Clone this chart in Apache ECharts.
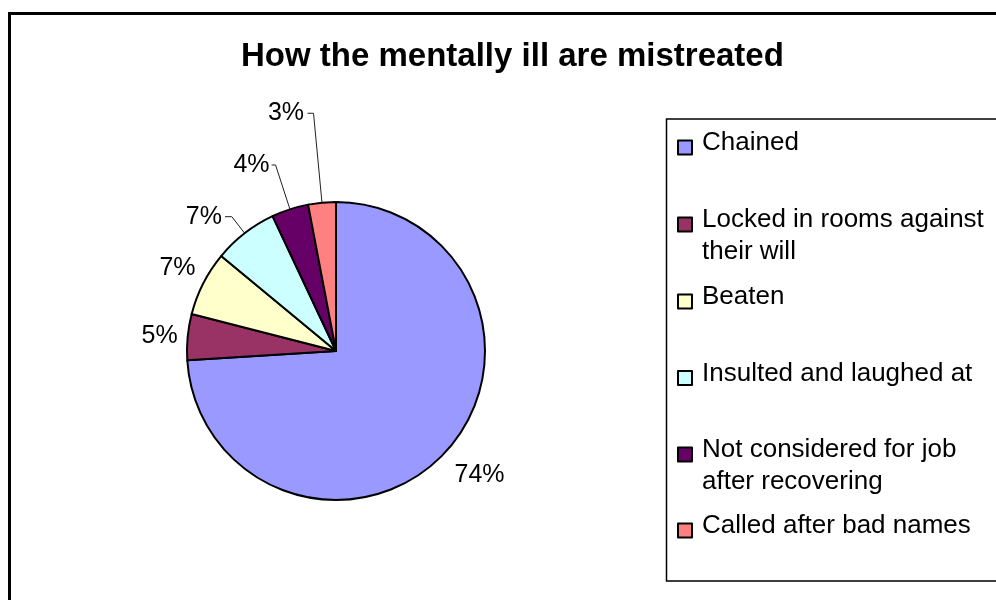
<!DOCTYPE html>
<html>
<head>
<meta charset="utf-8">
<script src="https://cdn.jsdelivr.net/npm/echarts@6/dist/echarts.min.js"></script>
<style>
  html, body { margin: 0; padding: 0; background: #ffffff; }
  #chart { width: 996px; height: 600px; }
</style>
</head>
<body>
<div id="chart"></div>
<script>
// Survey categories and their percentage shares
const categories = [
  'Chained',
  'Locked in rooms against\ntheir will',
  'Beaten',
  'Insulted and laughed at',
  'Not considered for job\nafter recovering',
  'Called after bad names'
];
const shares = [74, 5, 7, 7, 4, 3];
const sliceColors = ['#9999FF', '#993366', '#FFFFCC', '#CCFFFF', '#660066', '#FF8080'];

// Outside-label leaders: radial length, horizontal length, gap to text, visibility
const labelLeaders = [
  { show: false, length: 32.3, length2: -18.6, gap: 5 },
  { show: false, length: 5,    length2: 0,     gap: 5 },
  { show: false, length: 32.8, length2: -26.5, gap: 5 },
  { show: true,  length: 21,   length2: 6.8,   gap: 3 },
  { show: true,  length: 46.6, length2: 4,     gap: 2 },
  { show: true,  length: 89.8, length2: 6,     gap: 3.5 }
];

// Vertical centre of the first text line of each legend entry
const legendRows = [143, 220, 297, 373.5, 450, 526];

const fontFamily = '"Liberation Sans", Arial, Helvetica, sans-serif';

const pieData = categories.map((name, i) => ({
  name: name,
  value: shares[i],
  itemStyle: { color: sliceColors[i] },
  label: { distanceToLabelLine: labelLeaders[i].gap },
  labelLine: {
    show: labelLeaders[i].show,
    length: labelLeaders[i].length,
    length2: labelLeaders[i].length2
  }
}));

// Legend text: the swatch sits a little below the first text line,
// so a spacer line is added above (wrapped entries) or below (single-line entries).
function legendText(name) {
  const parts = name.split('\n');
  if (parts.length > 1) {
    return '{gt| }\n' + parts.map(p => '{t|' + p + '}').join('\n');
  }
  return '{t|' + name + '}\n{gb| }';
}

const legends = categories.map((name, i) => {
  const lines = name.split('\n').length;
  return {
    orient: 'vertical',
    left: 677,
    top: lines > 1 ? legendRows[i] - 40.5 : legendRows[i] - 13,
    padding: 0,
    itemGap: 0,
    icon: 'rect',
    itemWidth: 14,
    itemHeight: 14,
    itemStyle: { borderColor: '#000000', borderWidth: 2 },
    formatter: legendText,
    textStyle: {
      fontFamily: fontFamily,
      fontSize: 26,
      color: '#000000',
      padding: [0, 0, 0, 5],
      rich: {
        t: { fontFamily: fontFamily, fontSize: 26, lineHeight: 32, color: '#000000' },
        gt: { fontFamily: fontFamily, fontSize: 26, lineHeight: 23 },
        gb: { fontFamily: fontFamily, fontSize: 26, lineHeight: 9 }
      }
    },
    data: [name]
  };
});

const chart = echarts.init(document.getElementById('chart'), null, { renderer: 'canvas' });

chart.setOption({
  backgroundColor: '#ffffff',
  animation: false,
  title: {
    text: 'How the mentally ill are mistreated',
    left: 241,
    top: 40,
    padding: 0,
    textStyle: { fontFamily: fontFamily, fontSize: 33, fontWeight: 'bold', color: '#000000' }
  },
  graphic: [
    {
      type: 'rect',
      silent: true,
      z: -10,
      shape: { x: 9.5, y: 13.5, width: 1100, height: 700 },
      style: { fill: 'none', stroke: '#000000', lineWidth: 3 }
    },
    {
      type: 'rect',
      silent: true,
      z: -5,
      shape: { x: 666.5, y: 119, width: 400, height: 462 },
      style: { fill: 'none', stroke: '#000000', lineWidth: 1.5 }
    }
  ],
  legend: legends,
  series: [{
    type: 'pie',
    center: [336, 351],
    radius: 149,
    startAngle: 90,
    clockwise: true,
    avoidLabelOverlap: false,
    emphasis: { disabled: true },
    itemStyle: { borderColor: '#000000', borderWidth: 2 },
    label: {
      show: true,
      position: 'outside',
      formatter: '{c}%',
      fontFamily: fontFamily,
      fontSize: 25,
      color: '#000000'
    },
    labelLine: {
      lineStyle: { color: '#222222', width: 1 }
    },
    data: pieData
  }]
});
</script>
</body>
</html>
